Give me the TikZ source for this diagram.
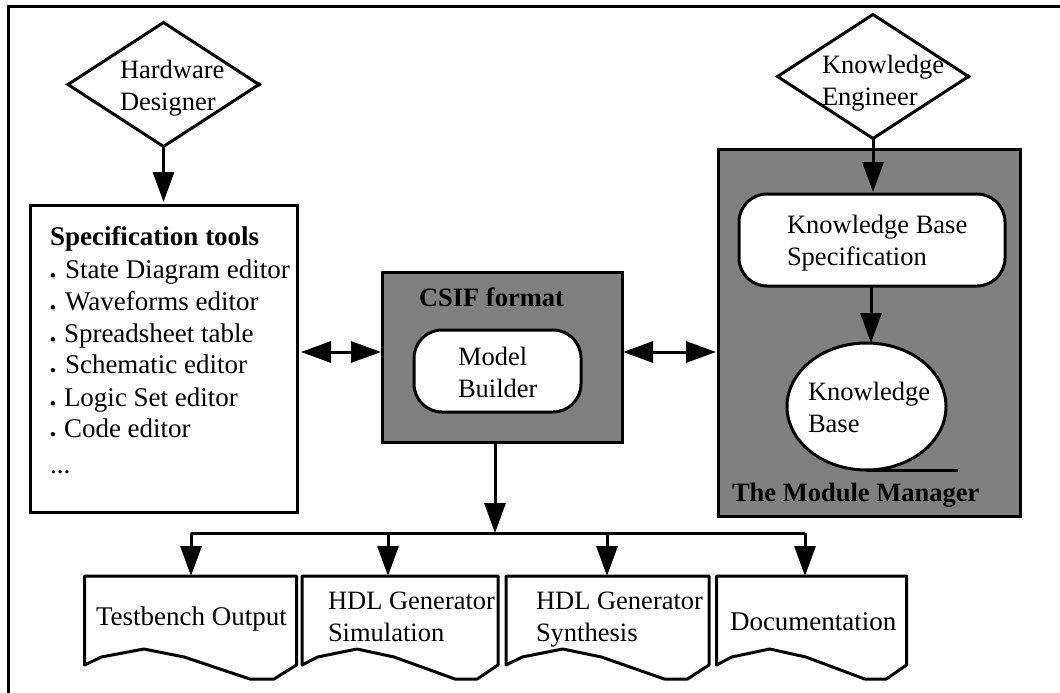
\documentclass[tikz,border=0pt]{standalone}
\usepackage{fontspec}
\setmainfont{Liberation Serif}
\usetikzlibrary{shapes.geometric,arrows.meta,calc}
\definecolor{gray50}{RGB}{128,128,128}
\tikzset{
  x=1pt,y=-1pt,
  every node/.style={inner sep=0pt,outer sep=0pt},
  ln/.style={line width=3pt,draw=black},
  actor/.style={ln,diamond,fill=white,minimum width=191pt,minimum height=124pt,aspect=1.54},
  panel/.style={ln,fill=gray50,rectangle,anchor=north west},
  plainbox/.style={ln,fill=white,rectangle,anchor=north west},
  pill/.style={ln,fill=white,rectangle,rounded corners=28pt,anchor=north west},
  dataell/.style={ln,fill=white,ellipse},
  docframe/.style={rectangle,anchor=north west},
  lbl/.style={anchor=base west,font=\fontsize{27}{32}\selectfont,text=black},
  mlbl/.style={anchor=north west,align=left,font=\fontsize{26.5}{32}\selectfont,text=black},
  blbl/.style={anchor=base west,font=\fontsize{26.5}{32}\selectfont\bfseries,text=black},
  arr/.style={line width=3pt,-{Triangle[length=30pt,width=21pt]}},
  darr/.style={line width=3pt,{Triangle[length=30pt,width=21pt]}-{Triangle[length=30pt,width=21pt]}},
}
\newcommand{\itm}[2]{\raisebox{1pt}{\textbf{.}}\hspace{#1pt}#2}
\newcommand{\docshape}[1]{%
  \coordinate (#1a) at ($(#1.south west)!.08!(#1.south east)+(0,-8)$);
  \coordinate (#1b) at ($(#1.south west)!.28!(#1.south east)+(0,-16)$);
  \coordinate (#1c) at ($(#1.south west)!.47!(#1.south east)+(0,-8)$);
  \coordinate (#1d) at ($(#1.south west)!.78!(#1.south east)+(0,14)$);
  \coordinate (#1e) at ($(#1.south west)!.894!(#1.south east)+(0,14)$);
  \draw[ln,line join=round] (#1.north west) -- (#1.north east) -- (#1.south east)
    -- (#1e) -- (#1d) -- (#1c) -- (#1b) -- (#1a) -- (#1.south west) -- cycle;
}
\begin{document}
\begin{tikzpicture}
\useasboundingbox (0,0) rectangle (1060,693);
% outer frame: top and left rules
\coordinate (frameBL) at (8,693);
\coordinate (frameTL) at (8,7);
\coordinate (frameTR) at (1060,7);
\draw[ln,line join=miter] (frameBL) -- (frameTL) -- (frameTR);

% panels
\node[panel,minimum width=240pt,minimum height=170pt] (csif) at (382,272) {};
\node[panel,minimum width=302pt,minimum height=367pt] (mm) at (718,149) {};
\node[plainbox,minimum width=267pt,minimum height=307pt] (spec) at (30,205) {};

% actors
\node[actor] (hw) at (163.5,84.5) {};
\node[actor] (ke) at (873,76.5) {};
\fill (hw.east) circle (2.2pt);
\fill (ke.east) circle (2.2pt);

% inner shapes
\node[pill,minimum width=167pt,minimum height=82pt] (mb) at (414,330) {};
\node[pill,minimum width=266pt,minimum height=92pt] (kbs) at (739,194) {};
\node[dataell,minimum width=159pt,minimum height=127pt] (kb) at (866.5,406.5) {};
\coordinate (kbTail) at (958,470);
\draw[ln] (kb.south) -- (kbTail);

% documents
\node[docframe,minimum width=212pt,minimum height=89pt] (d1) at (84.5,576) {};
\node[docframe,minimum width=196pt,minimum height=89pt] (d2) at (302,576) {};
\node[docframe,minimum width=203pt,minimum height=89pt] (d3) at (506,576) {};
\node[docframe,minimum width=190pt,minimum height=89pt] (d4) at (716.5,576) {};
\docshape{d1}\docshape{d2}\docshape{d3}\docshape{d4}

% connectors
\draw[arr,shorten >=3pt] (hw.south) -- (hw.south |- spec.north);
\draw[arr,shorten >=2pt] (ke.south) -- (ke.south |- kbs.north);
\coordinate (kbIn) at (871,343);
\draw[arr] (kbs.south -| kbIn) -- (kbIn);
\coordinate (sa) at (301,352);
\draw[darr,shorten >=1pt] (sa) -- (csif.west |- sa);
\draw[darr,shorten <=1pt,shorten >=2pt] (csif.east |- sa) -- (mm.west |- sa);
\coordinate (busL) at (191,533);
\coordinate (busR) at (805,533);
\coordinate (busM) at (495,533);
\coordinate (b2) at (388,533);
\coordinate (b3) at (607,533);
\draw[arr] (csif.south -| busM) -- (busM);
\draw[ln,line cap=butt] (busL) -- (busR);
\draw[arr] (busL) -- (busL |- d1.north);
\draw[arr] (b2) -- (b2 |- d2.north);
\draw[arr] (b3) -- (b3 |- d3.north);
\draw[arr] (busR) -- (busR |- d4.north);

% texts
\node[mlbl] (hwt) at (120,60) {Hardware\\Designer};
\node[mlbl] (ket) at (822,55) {Knowledge\\Engineer};
\node[blbl,font=\fontsize{27}{32}\selectfont\bfseries] (st) at (50,245) {Specification tools};
\node[lbl] (s1) at (49.5,278) {\itm{8.75}{State Diagram editor}};
\node[lbl] (s2) at (49.5,310) {\itm{8.75}{Waveforms editor}};
\node[lbl] (s3) at (49.5,342) {\itm{7.75}{Spreadsheet table}};
\node[lbl] (s4) at (49.5,373) {\itm{8.75}{Schematic editor}};
\node[lbl] (s5) at (49.5,406) {\itm{7.75}{Logic Set editor}};
\node[lbl] (s6) at (49.5,437) {\itm{7.75}{Code editor}};
\node[lbl] (s7) at (50,473) {...};
\node[blbl] (ct) at (419,306) {CSIF format};
\node[mlbl] (mbt) at (458,347) {Model\\Builder};
\node[mlbl] (kbst) at (787,215) {Knowledge Base\\Specification};
\node[mlbl] (kbt) at (808,382) {Knowledge\\Base};
\node[blbl] (mmt) at (732,501) {The Module Manager};
\node[lbl] (d1t) at (96,625) {Testbench Output};
\node[mlbl] (d2t) at (328,592) {HDL Generator\\Simulation};
\node[mlbl] (d3t) at (536,592) {HDL Generator\\Synthesis};
\node[lbl] (d4t) at (730,630.5) {Documentation};
\end{tikzpicture}
\end{document}
